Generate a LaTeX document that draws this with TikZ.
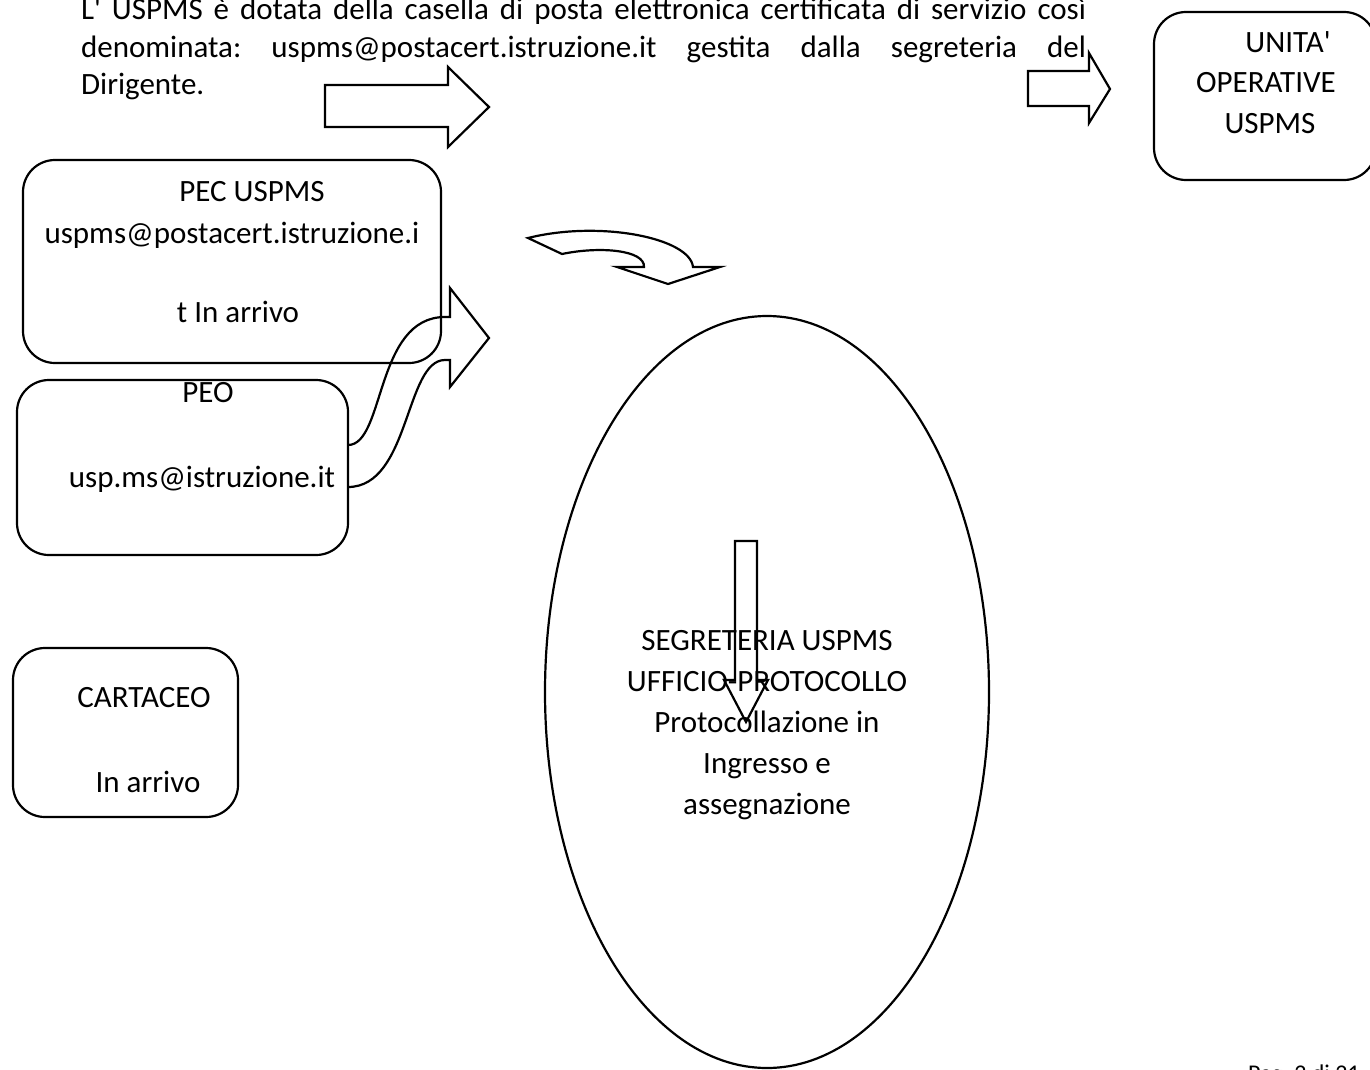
\documentclass[tikz,border=0pt]{standalone}
\usepackage{fontspec}
\setmainfont{Carlito}[Ligatures=TeXOff]
\usetikzlibrary{shapes.geometric}
\begin{document}
\frenchspacing
\begin{tikzpicture}[x=1pt,y=-1pt,line width=2.2pt,line join=miter,
  rbox/.style={draw,rounded corners=32pt,inner sep=0pt,outer sep=0pt},
  oval/.style={draw,ellipse,inner sep=0pt,outer sep=0pt},
  txt/.style={anchor=base,inner sep=0pt,font=\fontsize{31}{37}\selectfont\frenchspacing},
  ptxt/.style={anchor=base west,inner sep=0pt,font=\fontsize{31}{37}\selectfont\frenchspacing},
  blk/.style={draw,line width=2.2pt,line join=miter}]
\useasboundingbox (0,0) rectangle (1370,1070);

% top paragraph
\node[ptxt] (p1) at (80,20) {\makebox[1005pt][s]{L' USPMS è dotata della casella di posta elettronica certificata di servizio così}};
\node[ptxt] (p2) at (80,57.5) {\makebox[1005pt][s]{denominata: uspms@postacert.istruzione.it gestita dalla segreteria del}};
\node[ptxt] (p3) at (80,95) {Dirigente.};

% boxes
\node[rbox,minimum width=222pt,minimum height=168pt] (unita) at (1265,96) {};
\node[rbox,minimum width=418pt,minimum height=203pt] (pec) at (232,261.5) {};
\node[rbox,minimum width=331pt,minimum height=175pt] (peo) at (182.5,467.5) {};
\node[rbox,minimum width=225pt,minimum height=169pt] (cart) at (125.5,732.5) {};
\node[oval,minimum width=444pt,minimum height=752pt] (segr) at (767,692) {};

% texts
\node[txt] (u1) at (1288,53) {UNITA'};
\node[txt] (u2) at (1266,93) {OPERATIVE};
\node[txt] (u3) at (1270,133) {USPMS};
\node[txt] (e1) at (252,201) {PEC USPMS};
\node[txt] (e2) at (232,243) {uspms@postacert.istruzione.i};
\node[txt] (e3) at (238,322) {t In arrivo};
\node[txt] (o1) at (208,402) {PEO};
\node[txt] (o2) at (202,487) {usp.ms@istruzione.it};
\node[txt] (c1) at (144,707) {CARTACEO};
\node[txt] (c2) at (148,792) {In arrivo};
\node[txt] (s1) at (767,650) {SEGRETERIA USPMS};
\node[txt] (s2) at (767,691) {UFFICIO-PROTOCOLLO};
\node[txt] (s3) at (767,732) {Protocollazione in};
\node[txt] (s4) at (767,773) {Ingresso e};
\node[txt] (s5) at (767,814) {assegnazione};
\node[anchor=base west,inner sep=0pt,font=\fontsize{24}{28}\selectfont] (pag) at (1247,1081) {Pag. 2 di 21};

% block arrows
\draw[blk] (325,85) -- (448,85) -- (448,67) -- (489,107) -- (448,147) -- (448,127) -- (325,127) -- cycle;
\draw[blk] (1028,71) -- (1089,71) -- (1089,53) -- (1110,89) -- (1089,123) -- (1089,106) -- (1028,106) -- cycle;
\draw[blk] (735,541) -- (757,541) -- (757,680) -- (768,680) -- (746,722) -- (724,680) -- (735,680) -- cycle;

% S-shaped arrow from PEO
\draw[blk] (peo.east |- 0,445) .. controls (385,445) and (375,317) .. (445,317) -- (450,317) -- (450,288) -- (489,338) -- (450,387) -- (450,360) -- (445,360) .. controls (405,360) and (410,487) .. (peo.east |- 0,487);

% curved down arrow
\draw[blk] (528,238) -- (562,254) .. controls (600,246) and (645,250) .. (644,267) -- (617,267) -- (668,284) -- (720,267) -- (693,267) .. controls (690,238) and (600,220) .. cycle;
\end{tikzpicture}
\end{document}
